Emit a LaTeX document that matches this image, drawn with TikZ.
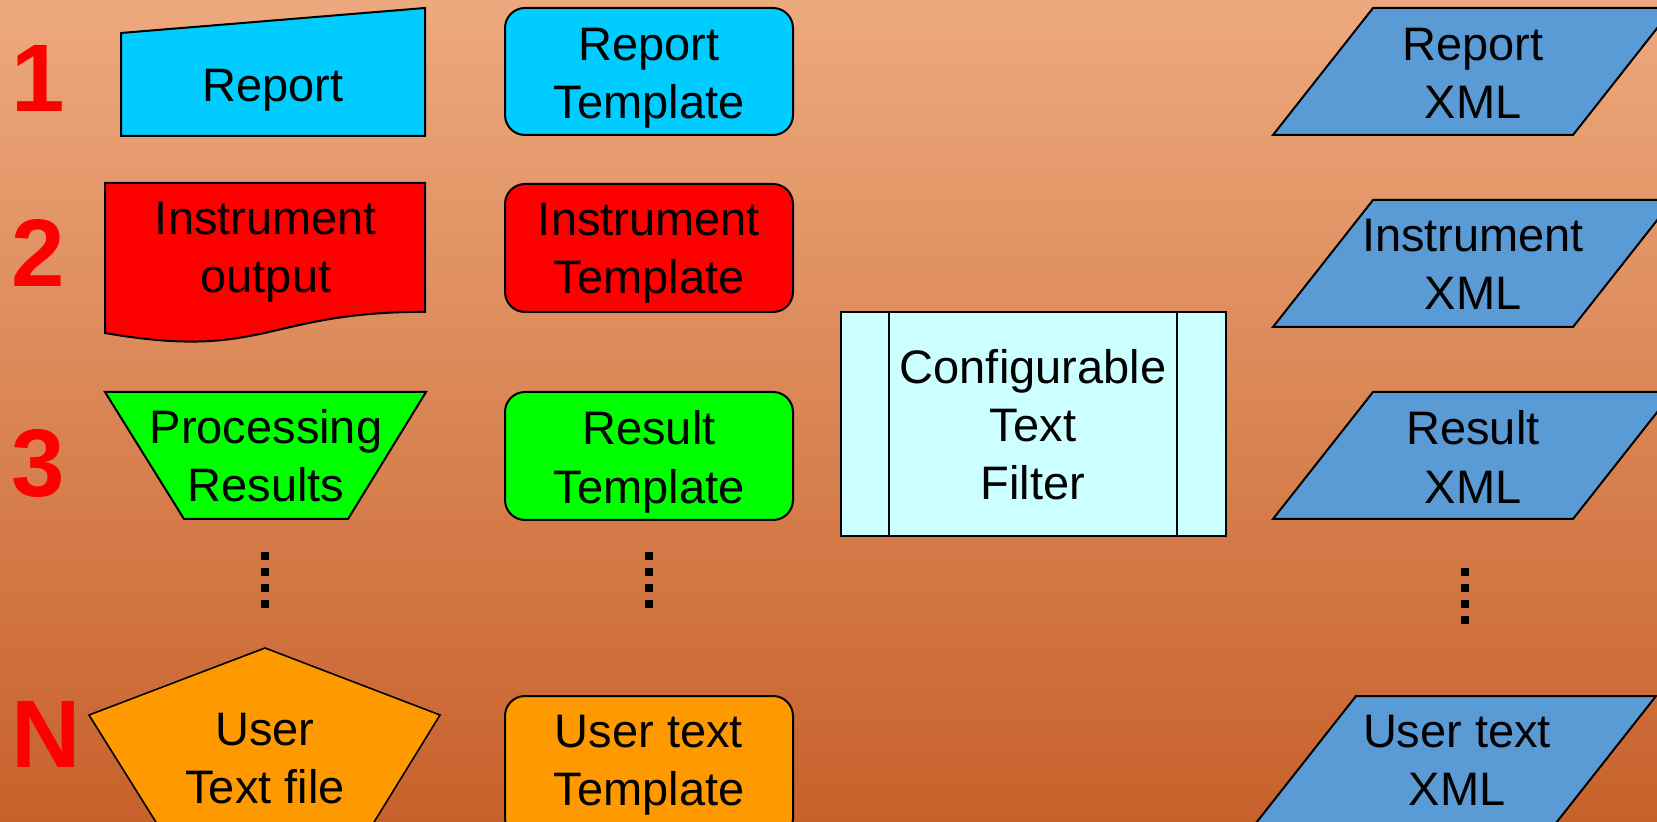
\documentclass[tikz,border=0pt]{standalone}
\usepackage{fontspec}
\setmainfont{Liberation Sans}
\definecolor{bgtop}{HTML}{EDA97E}
\definecolor{bgbot}{HTML}{C7612B}
\definecolor{cyanfill}{HTML}{00CCFF}
\definecolor{redfill}{HTML}{FF0000}
\definecolor{greenfill}{HTML}{00FF00}
\definecolor{orangefill}{HTML}{FF9900}
\definecolor{bluefill}{HTML}{5B9BD5}
\definecolor{filterfill}{HTML}{CCFFFF}
\definecolor{numred}{HTML}{FF0000}
\tikzset{
  shapeline/.style={draw=black, line width=1pt, line join=miter},
  lbl/.style={font=\fontsize{23.5}{29}\selectfont, align=center, inner sep=0pt, anchor=base, text=black},
  numlbl/.style={font=\fontsize{48}{48}\selectfont\bfseries, inner sep=0pt, anchor=base west, text=numred},
  tmpl/.style={shapeline, rounded corners=10pt},
  ellip/.style={draw=black, line width=4.3pt, dash pattern=on 4pt off 4pt}
}
\begin{document}
\begin{tikzpicture}[x=0.5pt, y=-0.5pt]
\useasboundingbox (0,0) rectangle (1657,822);
\clip (0,0) rectangle (1657,822);
\shade[top color=bgtop, bottom color=bgbot] (0,0) rectangle (1657,822);

% row numbers
\node[numlbl] (n1) at (11,112) {1};
\node[numlbl] (n2) at (11,287) {2};
\node[numlbl] (n3) at (11,497) {3};
\node[numlbl] (nN) at (11,767) {N};

% left column shapes
\path[shapeline, fill=cyanfill] (121,33) -- (425,8) -- (425,136) -- (121,136) -- cycle;
\path[shapeline, fill=redfill] (105,183) -- (425,183) -- (425,311.8)
  .. controls (265,311.8) and (265,360.9) .. (105,333) -- cycle;
\path[shapeline, fill=greenfill] (105,392) -- (426,392) -- (348,519) -- (184,519) -- cycle;
\path[shapeline, line width=0.8pt, fill=orangefill] (265,648) -- (440,715) -- (373.5,823)
  -- (156.5,823) -- (89,715) -- cycle;

\node[lbl] (lreport) at (273,102) {Report};
\node[lbl] (linstr) at (266,293) {Instrument\\output};
\node[lbl] (lproc) at (266,502) {Processing\\Results};
\node[lbl] (luser) at (265,803) {User\\Text file};

% middle column templates
\path[tmpl, fill=cyanfill] (505,8) rectangle (793,135);
\path[tmpl, fill=redfill] (505,184) rectangle (793,312);
\path[tmpl, fill=greenfill] (505,392) rectangle (793,520);
\path[tmpl, fill=orangefill] (505,696) rectangle (793,838);

\node[lbl] (mreport) at (649,119) {Report\\Template};
\node[lbl] (minstr) at (649,294) {Instrument\\Template};
\node[lbl] (mresult) at (649,503) {Result\\Template};
\node[lbl] (muser) at (649,805) {User text\\Template};

% filter
\path[shapeline, fill=filterfill] (841,312) rectangle (1226,536);
\draw[line width=1pt] (889,312) -- (889,536);
\draw[line width=1pt] (1177,312) -- (1177,536);
\node[lbl] (filter) at (1033,500) {Configurable\\Text\\Filter};

% right column XML
\path[shapeline, fill=bluefill] (1373,8) -- (1673,8) -- (1573,135) -- (1273,135) -- cycle;
\path[shapeline, fill=bluefill] (1373,200) -- (1673,200) -- (1573,327) -- (1273,327) -- cycle;
\path[shapeline, fill=bluefill] (1373,392) -- (1673,392) -- (1573,519) -- (1273,519) -- cycle;
\path[shapeline, fill=bluefill] (1356,696) -- (1656,696) -- (1556,823) -- (1256,823) -- cycle;

\node[lbl] (rreport) at (1473,119) {Report\\XML};
\node[lbl] (rinstr) at (1473,310) {Instrument\\XML};
\node[lbl] (rresult) at (1473,503) {Result\\XML};
\node[lbl] (ruser) at (1457,805) {User text\\XML};

% vertical ellipses
\draw[ellip] (265,552) -- (265,608);
\draw[ellip] (649,552) -- (649,608);
\draw[ellip] (1465,568) -- (1465,624);
\end{tikzpicture}
\end{document}
